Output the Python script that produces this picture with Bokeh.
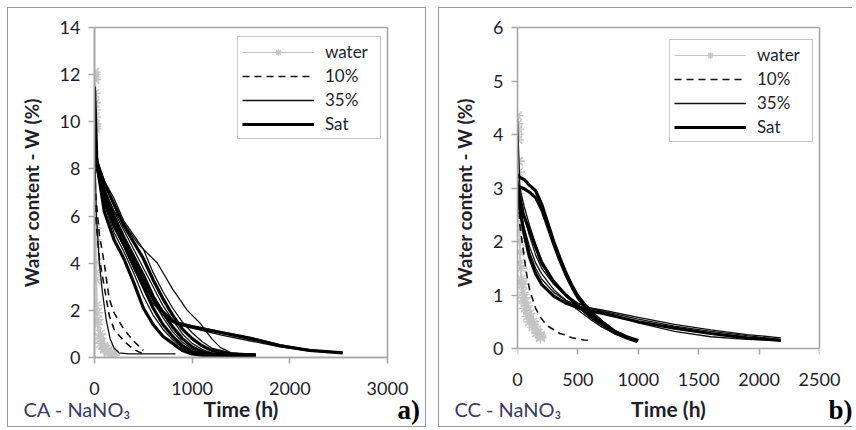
from bokeh.plotting import figure
from bokeh.models import Legend, LegendItem, Title, Range1d, FixedTicker, Spacer, LinearAxis
from bokeh.layouts import row, column
from bokeh.embed import file_html
from bokeh.resources import INLINE

# ---------------- Panel a : CA - NaNO3 ----------------
A_X_TICKS = [0, 1000, 2000, 3000]
A_Y_TICKS = [0, 2, 4, 6, 8, 10, 12, 14]

A_WATER_T = [0, 3, 6, 9, 12, 18, 30, 60, 100, 140, 170, 200]
A_WATER_1 = [12.1, 11.8, 10.8, 9.9, 5.5, 3.6, 1.9, 1.0, 0.5, 0.3, 0.2, 0.15]
A_WATER_2 = [11.9, 11.2, 10.2, 9.7, 5.0, 3.3, 1.6, 0.8, 0.4, 0.25, 0.15, 0.1]
A_WATER_3 = [12.0, 10.5, 9.8, 4.8, 4.0, 2.2, 1.4, 0.6, 0.35, 0.2, 0.12, 0.1]

A_D10_T = [0, 10, 50, 100, 150, 200, 300, 400, 500]
A_D10_1 = [9.0, 7.0, 5.2, 4.0, 2.5, 1.9, 1.2, 0.7, 0.3]
A_D10_2 = [8.5, 6.0, 4.2, 3.0, 1.8, 1.2, 0.7, 0.35, 0.15]

A_S35_LEFT_T = [0, 20, 50, 80, 120, 160, 200, 250, 350, 500, 830]
A_S35_LEFT = [9.0, 6.0, 4.0, 2.8, 1.6, 0.8, 0.4, 0.2, 0.15, 0.15, 0.15]

A_BUNDLE_T = [0, 25, 100, 200, 300, 400, 500, 600, 700, 800, 900, 1000, 1100, 1200, 1400, 1650]
A_SAT_1 = [11.5, 8.2, 6.2, 5.0, 4.2, 3.2, 2.1, 1.4, 0.9, 0.6, 0.3, 0.15, 0.1, 0.1, 0.1, 0.1]
A_S35_1 = [9.0, 8.2, 6.5, 5.3, 4.5, 3.6, 2.6, 1.8, 1.2, 0.75, 0.4, 0.2, 0.12, 0.1, 0.1, 0.1]
A_SAT_2 = [8.8, 8.1, 6.7, 5.6, 4.8, 3.9, 3.0, 2.1, 1.4, 0.9, 0.5, 0.25, 0.15, 0.12, 0.1, 0.1]
A_S35_2 = [8.7, 8.2, 6.9, 5.9, 5.0, 4.1, 3.3, 2.4, 1.7, 1.1, 0.65, 0.35, 0.2, 0.15, 0.12, 0.1]
A_SAT_3 = [9.0, 8.3, 7.0, 6.0, 5.1, 4.3, 3.5, 2.6, 1.9, 1.3, 0.8, 0.45, 0.25, 0.15, 0.12, 0.1]
A_S35_3 = [8.6, 8.2, 7.2, 6.2, 5.4, 4.6, 3.8, 3.0, 2.2, 1.6, 1.0, 0.6, 0.35, 0.2, 0.12, 0.1]
A_SAT_4 = [8.9, 8.3, 7.4, 6.5, 5.6, 4.9, 4.2, 3.3, 2.5, 1.8, 1.2, 0.8, 0.5, 0.3, 0.15, 0.1]
A_S35_4 = [9.0, 8.3, 7.5, 6.75, 5.8, 5.2, 4.6, 3.6, 2.8, 2.1, 1.5, 1.05, 0.68, 0.4, 0.2, 0.1]

A_KINK_T = [0, 25, 100, 200, 300, 450, 645, 800, 950, 1085, 1200, 1290, 1400]
A_S35_KINK = [9.0, 8.2, 7.0, 6.2, 5.7, 4.8, 4.0, 2.9, 2.0, 1.44, 0.8, 0.42, 0.2]

A_TAIL_T = [0, 25, 100, 200, 300, 400, 500, 600, 700, 800, 850, 1000, 1300, 1600, 1900, 2200, 2540]
A_SAT_TAIL = [8.8, 8.2, 6.8, 5.7, 4.9, 4.0, 3.2, 2.5, 1.9, 1.55, 1.45, 1.3, 1.05, 0.8, 0.5, 0.3, 0.2]
A_S35_TAIL_1 = [8.9, 8.2, 6.6, 5.5, 4.7, 3.8, 3.0, 2.3, 1.8, 1.5, 1.4, 1.25, 0.95, 0.7, 0.45, 0.28, 0.2]
A_S35_TAIL_2 = [9.0, 8.1, 6.9, 5.8, 5.0, 4.1, 3.3, 2.6, 2.0, 1.6, 1.5, 1.35, 1.1, 0.85, 0.55, 0.32, 0.22]

# ---------------- Panel b : CC - NaNO3 ----------------
B_X_TICKS = [0, 500, 1000, 1500, 2000, 2500]
B_Y_TICKS = [0, 1, 2, 3, 4, 5, 6]

B_WATER_T = [0, 5, 10, 15, 20, 30, 45, 60, 80, 100, 130, 160, 190]
B_WATER_1 = [4.35, 4.1, 3.5, 2.7, 2.0, 1.5, 1.2, 0.95, 0.8, 0.65, 0.5, 0.35, 0.25]
B_WATER_2 = [4.2, 3.9, 3.3, 2.6, 1.8, 1.3, 1.05, 0.85, 0.7, 0.55, 0.45, 0.3, 0.22]
B_WATER_3 = [4.0, 3.5, 2.9, 2.2, 1.6, 1.2, 0.95, 0.75, 0.6, 0.5, 0.4, 0.3, 0.2]

B_STEEP_T = [0, 20, 50, 75, 100, 150, 200, 250, 300, 350, 400, 450, 500, 550, 600]
B_D10_STEEP = [3.0, 2.3, 1.8, 1.4, 1.1, 0.75, 0.55, 0.42, 0.35, 0.28, 0.25, 0.2, 0.18, 0.16, 0.15]

B_PLATEAU_T = [0, 20, 60, 100, 150, 200, 250, 300, 350, 400, 450, 500, 600, 700, 800, 900, 990]
B_SAT_PLATEAU_1 = [3.25, 3.2, 3.15, 3.05, 2.95, 2.7, 2.35, 2.0, 1.7, 1.42, 1.18, 0.98, 0.7, 0.5, 0.33, 0.22, 0.14]
B_SAT_PLATEAU_2 = [3.05, 3.02, 2.98, 2.92, 2.82, 2.6, 2.28, 1.95, 1.65, 1.38, 1.15, 0.95, 0.66, 0.46, 0.3, 0.2, 0.13]

B_TAIL_T = [0, 20, 50, 100, 150, 200, 300, 400, 500, 600, 700, 1000, 1300, 1600, 1900, 2180]
B_S35_TAIL_1 = [3.1, 2.7, 2.3, 1.8, 1.5, 1.3, 1.05, 0.9, 0.8, 0.74, 0.7, 0.55, 0.42, 0.32, 0.24, 0.17]
B_SAT_TAIL = [3.0, 2.6, 2.2, 1.7, 1.4, 1.2, 0.98, 0.85, 0.76, 0.7, 0.66, 0.5, 0.38, 0.28, 0.2, 0.15]
B_S35_TAIL_2 = [3.2, 2.9, 2.5, 2.1, 1.75, 1.5, 1.2, 0.98, 0.84, 0.76, 0.7, 0.48, 0.32, 0.22, 0.17, 0.15]
B_S35_TAIL_3 = [4.3, 3.0, 2.7, 2.3, 1.95, 1.65, 1.25, 1.0, 0.85, 0.76, 0.72, 0.58, 0.45, 0.35, 0.26, 0.2]

B_MID_T = [0, 20, 50, 100, 150, 200, 300, 400, 500, 600, 700, 800, 900, 1000]
B_SAT_MID = [3.0, 2.8, 2.5, 2.2, 1.9, 1.6, 1.25, 1.0, 0.8, 0.6, 0.45, 0.32, 0.22, 0.15]
B_S35_MID = [2.9, 2.6, 2.3, 1.9, 1.6, 1.4, 1.1, 0.9, 0.72, 0.55, 0.4, 0.28, 0.2, 0.14]

LEGEND_LABELS = ["water", "10%", "35%", "Sat"]
X_LABEL = "Time (h)"
Y_LABEL = "Water content - W (%)"

A_SERIES = [
    ("water", A_WATER_T, A_WATER_1), ("water", A_WATER_T, A_WATER_2), ("water", A_WATER_T, A_WATER_3),
    ("10%", A_D10_T, A_D10_1), ("10%", A_D10_T, A_D10_2),
    ("35%", A_S35_LEFT_T, A_S35_LEFT),
    ("35%", A_BUNDLE_T, A_S35_1), ("35%", A_BUNDLE_T, A_S35_2), ("35%", A_BUNDLE_T, A_S35_3),
    ("35%", A_BUNDLE_T, A_S35_4), ("35%", A_KINK_T, A_S35_KINK),
    ("35%", A_TAIL_T, A_S35_TAIL_1), ("35%", A_TAIL_T, A_S35_TAIL_2),
    ("Sat", A_BUNDLE_T, A_SAT_1), ("Sat", A_BUNDLE_T, A_SAT_2), ("Sat", A_BUNDLE_T, A_SAT_3),
    ("Sat", A_BUNDLE_T, A_SAT_4), ("Sat", A_TAIL_T, A_SAT_TAIL),
]
B_SERIES = [
    ("water", B_WATER_T, B_WATER_1), ("water", B_WATER_T, B_WATER_2), ("water", B_WATER_T, B_WATER_3),
    ("10%", B_STEEP_T, B_D10_STEEP),
    ("35%", B_TAIL_T, B_S35_TAIL_1), ("35%", B_TAIL_T, B_S35_TAIL_2), ("35%", B_TAIL_T, B_S35_TAIL_3),
    ("35%", B_MID_T, B_S35_MID),
    ("Sat", B_TAIL_T, B_SAT_TAIL), ("Sat", B_MID_T, B_SAT_MID),
    ("Sat", B_PLATEAU_T, B_SAT_PLATEAU_1), ("Sat", B_PLATEAU_T, B_SAT_PLATEAU_2),
]

FONT = "Lato"
TXT = "#1e1e2a"
GRAY = "#a6a6a6"
STYLE = {
    "water": dict(line_color="#c4c4c4", line_width=1.2),
    "10%": dict(line_color="#111111", line_width=1.6, line_dash="7 5"),
    "35%": dict(line_color="#111111", line_width=1.3),
    "Sat": dict(line_color="#000000", line_width=3.2),
}


def plain_axis(**kw):
    return LinearAxis(ticker=FixedTicker(ticks=[]), axis_line_color=GRAY, axis_line_width=1.6,
                      major_tick_line_color=None, minor_tick_line_color=None,
                      major_label_text_font_size="0px", major_tick_out=0, **kw)


def make_panel(series, x_end, y_start, y_end, xticks, yticks, width, height, borders,
               legend_loc, tag, tag_off, letter, letter_off, border_style,
               lift_axis, gap_standoff):
    p = figure(width=width, height=height, output_backend="svg", toolbar_location=None,
               x_range=Range1d(0, x_end), y_range=Range1d(y_start, y_end),
               min_border_left=borders[0], min_border_right=borders[1],
               min_border_top=borders[2], min_border_bottom=borders[3])
    p.styles = border_style
    p.xgrid.visible = False
    p.ygrid.visible = False
    p.outline_line_color = GRAY
    p.outline_line_width = 1.6
    xa = p.xaxis[0]
    ya = p.yaxis[0]
    xa.ticker = FixedTicker(ticks=xticks)
    ya.ticker = FixedTicker(ticks=yticks)
    for ax in (xa, ya):
        ax.axis_line_color = GRAY
        ax.axis_line_width = 1.6
        ax.major_tick_line_color = GRAY
        ax.major_tick_line_width = 1.6
        ax.major_tick_out = 6
        ax.major_tick_in = 0
        ax.minor_tick_line_color = None
        ax.major_label_text_font = FONT
        ax.major_label_text_font_size = "18px"
        ax.major_label_text_color = TXT
    ya.axis_label = Y_LABEL
    ya.axis_label_text_font = FONT
    ya.axis_label_text_font_style = "bold"
    ya.axis_label_text_color = TXT
    ya.axis_label_text_font_size = "19px"
    xa.major_label_standoff = 18
    ya.major_label_standoff = 8
    ya.axis_label_standoff = 14

    if lift_axis:
        # x axis line and ticks sit at W = 0, a little above the bottom of the frame;
        # its numbers are carried by a second, line-less axis under the frame
        xa.fixed_location = 0
        xa.major_label_overrides = {t: "" for t in xticks}
        ya.bounds = (0, y_end)
        p.outline_line_color = None
        p.add_layout(plain_axis(), "above")
        p.add_layout(plain_axis(bounds=(0, y_end)), "right")
        lab_axis = LinearAxis(ticker=FixedTicker(ticks=xticks), axis_line_color=None,
                              major_tick_line_color=None, minor_tick_line_color=None,
                              major_tick_out=0, major_label_standoff=15,
                              major_label_text_font=FONT, major_label_text_font_size="18px",
                              major_label_text_color=TXT)
        p.add_layout(lab_axis, "below")

    first = {}
    for cat, t, w in series:
        r = p.line(t, w, **STYLE[cat])
        rs = [r]
        if cat == "water":
            s = p.scatter(t, w, marker="asterisk", size=12, line_color="#c4c4c4", line_width=1.4)
            rs.append(s)
        first.setdefault(cat, rs)

    items = [LegendItem(label=lab, renderers=first[lab]) for lab in LEGEND_LABELS]
    leg = Legend(items=items, location=legend_loc, orientation="vertical",
                 border_line_color="#8c8c8c", border_line_width=1.6,
                 background_fill_alpha=1.0, padding=4, spacing=3, margin=0,
                 glyph_width=72, glyph_height=16, label_height=16, label_width=51,
                 label_standoff=11, label_text_font=FONT, label_text_font_size="17px",
                 label_text_color=TXT)
    p.add_layout(leg, "center")

    # lower side panel: a blank spacer line, then three zero-height titles
    # that all sit centred on the same line
    p.add_layout(Title(text=" ", text_font=FONT, text_font_size="10px",
                       standoff=gap_standoff), "below")
    p.add_layout(Title(text=X_LABEL, align="center", text_font=FONT, text_font_style="bold",
                       text_font_size="21px", text_color=TXT, standoff=-26,
                       vertical_align="middle"), "below")
    p.add_layout(Title(text=tag, align="left", offset=tag_off, text_font=FONT,
                       text_font_style="normal", text_font_size="20px", text_color="#3a3a66",
                       standoff=-25, vertical_align="middle"), "below")
    p.add_layout(Title(text=letter, align="left", offset=letter_off,
                       text_font="Liberation Serif", text_font_style="bold",
                       text_font_size="27px", text_color="#000000",
                       standoff=-32, vertical_align="middle"), "below")
    return p


pa = make_panel(A_SERIES, 3000, 0, 14, A_X_TICKS, A_Y_TICKS, 419, 420,
                (86, 40, 19, 71), (143, 218),
                "CA - NaNO\u2083", -71, "a)", 303,
                {"border": "1px solid #9a9a9a"}, False, -4)
pb = make_panel(B_SERIES, 2500, -0.168, 6, B_X_TICKS, B_Y_TICKS, 414, 420,
                (78, 34, 19, 71), (152, 215),
                "CC - NaNO\u2083", -63, "b)", 311,
                {"border-left": "1px solid #9a9a9a", "border-top": "1px solid #9a9a9a",
                 "border-bottom": "1px solid #9a9a9a"}, True, 5)

layout = column(Spacer(height=7), row(Spacer(width=7), pa, Spacer(width=12), pb))
open("out.html", "w").write(file_html(layout, INLINE))
